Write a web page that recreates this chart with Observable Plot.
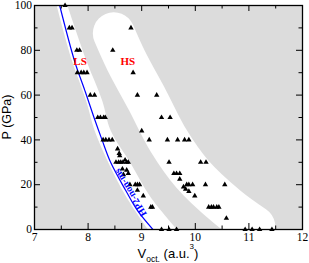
<!DOCTYPE html>
<html>
<head>
<meta charset="utf-8">
<script src="https://cdn.jsdelivr.net/npm/d3@7"></script>
<script src="https://cdn.jsdelivr.net/npm/@observablehq/plot@0.6"></script>
<style>
  html, body { margin: 0; padding: 0; background: white; }
  #chart svg { display: block; }
</style>
</head>
<body>
<div id="chart"></div>
<script>
// Axis ticks
const xTicks = [7, 8, 9, 10, 11, 12];
const xMinor = [7.5, 8.5, 9.5, 10.5, 11.5];
const yTicks = [0, 20, 40, 60, 80, 100];
const yMinor = [10, 30, 50, 70, 90];

// Low-spin (LS) data points
const lsV = [7.57, 7.65, 7.70, 7.79, 7.84, 7.80, 7.87, 7.92, 7.98, 8.04, 8.12,
  8.18, 8.23, 8.29, 8.32, 8.28, 8.33, 8.39, 8.45, 8.55, 8.58, 8.59,
  8.52, 8.57, 8.61, 8.65, 8.69, 8.72, 8.75, 8.64, 8.72, 8.75, 8.66,
  8.78, 8.88, 8.92, 8.96, 8.92, 9.03, 9.17, 9.20, 9.37, 9.51, 9.65];
const lsP = [100, 90, 90, 80, 80, 70, 70, 70, 70, 60, 60,
  50, 50, 50, 50, 40, 40, 40, 40, 36, 34, 33,
  30, 30, 30, 30, 31, 30, 30, 27, 26.5, 25, 24.5,
  20, 20, 20, 20, 17.5, 15, 10, 10, 0, 0, 0];

// High-spin (HS) data points
const hsV = [8.80, 8.46, 8.84, 8.92, 9.28, 9.37, 9.53, 9.00,
  9.14, 9.48, 9.67, 9.80, 9.88, 9.51, 10.10, 10.20,
  9.60, 9.65, 9.71, 9.71, 9.84, 9.88, 9.95, 10.19, 10.55,
  9.78, 9.82, 9.88, 9.99, 10.25, 10.30, 10.34, 10.40, 10.44,
  10.58, 10.93, 11.06, 11.20, 11.43];
const hsP = [90, 80, 70, 60, 60, 50, 50, 44,
  40, 40, 40, 40, 40, 30, 30, 30,
  25, 25, 25, 22.5, 20, 20, 20, 20, 20,
  19, 18, 17, 15, 10, 10, 10, 10, 10,
  5, 0, 0, 0, 0];

// HP2-non-ms curve
const curveV = [7.47, 7.75, 7.94, 8.11, 8.26, 8.42, 8.70, 8.92, 9.21];
const curveP = [100, 75, 62, 50, 40, 30, 17.5, 8.5, 0];

// LS white band edges
const lsBandP = [100, 75, 57.5, 44, 29.5, 14.4, 0];
const lsBandLeft = [7.42, 7.71, 7.97, 8.13, 8.39, 8.72, 9.12];
const lsBandRight = [7.62, 7.98, 8.27, 8.43, 8.80, 9.17, 9.66];

// HS white band centre line
const hsBandV = [8.48, 8.71, 9.11, 9.50, 9.94, 10.60, 11.10];
const hsBandP = [87.6, 75.4, 57.6, 39.7, 24.9, 10, 1.3];

// Text labels
const regionLabels = ["LS", "HS"];
const regionV = [7.85, 8.74];
const regionP = [75, 75];
const curveLabel = "HP2-non-ms";
const curveLabelV = 8.79;
const curveLabelP = 16.5;

const W = 309, H = 263, mL = 34, mR = 7, mT = 5, mB = 34;
const plotW = W - mL - mR, plotH = H - mT - mB;

const lsPts = lsV.map((v, i) => ({V: v, P: lsP[i]}));
const hsPts = hsV.map((v, i) => ({V: v, P: hsP[i]}));
const pts = lsPts.concat(hsPts);
const curve = curveV.map((v, i) => ({V: v, P: curveP[i]}));
const lsBand = lsBandP.map((p, i) => ({P: p, L: lsBandLeft[i], R: lsBandRight[i]}));
const hsBand = hsBandV.map((v, i) => ({V: v, P: hsBandP[i]}));
const labels = regionLabels.map((t, i) => ({t, V: regionV[i], P: regionP[i]}));

const serif = "'Liberation Serif', 'Times New Roman', serif";

const chart = Plot.plot({
  width: W, height: H,
  marginLeft: mL, marginRight: mR, marginTop: mT, marginBottom: mB,
  style: {background: "white", color: "black"},
  x: {domain: [7, 12], label: null},
  y: {domain: [0, 100], label: null},
  marks: [
    Plot.frame({fill: "#dcdcdc", stroke: null}),
    Plot.areaX(lsBand, {y: "P", x1: "L", x2: "R", fill: "white", curve: "catmull-rom", clip: true}),
    Plot.line(hsBand, {x: "V", y: "P", stroke: "white", strokeWidth: 42, strokeLinecap: "round", strokeLinejoin: "round", curve: "catmull-rom", clip: true}),
    Plot.line(curve, {x: "V", y: "P", stroke: "blue", strokeWidth: 1.2, curve: "catmull-rom", clip: true}),
    Plot.dot(pts, {x: "V", y: "P", symbol: "triangle", r: 2, fill: "black", stroke: null}),
    Plot.text(labels, {x: "V", y: "P", text: "t", fill: "red", fontWeight: "bold", fontSize: 11, fontFamily: serif}),
    Plot.text([curveLabel], {x: () => curveLabelV, y: () => curveLabelP, text: d => d, rotate: -121, fill: "blue", fontWeight: "bold", fontSize: 10, fontFamily: serif}),
    // inward ticks
    Plot.ruleX(xTicks, {insetTop: plotH - 6, stroke: "black"}),
    Plot.ruleX(xTicks, {insetBottom: plotH - 6, stroke: "black"}),
    Plot.ruleX(xMinor, {insetTop: plotH - 3.5, stroke: "black"}),
    Plot.ruleX(xMinor, {insetBottom: plotH - 3.5, stroke: "black"}),
    Plot.ruleY(yTicks, {insetRight: plotW - 6, stroke: "black"}),
    Plot.ruleY(yTicks, {insetLeft: plotW - 6, stroke: "black"}),
    Plot.ruleY(yMinor, {insetRight: plotW - 3.5, stroke: "black"}),
    Plot.ruleY(yMinor, {insetLeft: plotW - 3.5, stroke: "black"}),
    Plot.frame({stroke: "black", strokeWidth: 1.3}),
    Plot.axisX({ticks: xTicks, tickFormat: d => String(d), tickSize: 0, tickPadding: 3, fontSize: 11.5, fontFamily: serif, label: null}),
    Plot.axisY({ticks: yTicks, tickFormat: d => String(d), tickSize: 0, tickPadding: 2.5, fontSize: 11.5, fontFamily: serif, label: null})
  ]
});

const svg = d3.select(chart);
const sans = "'Liberation Sans', Arial, Helvetica, sans-serif";
svg.append("text")
  .attr("transform", `translate(10.5,${mT + plotH / 2}) rotate(-90)`)
  .attr("text-anchor", "middle")
  .attr("font-family", sans)
  .attr("font-size", 12.5)
  .attr("fill", "black")
  .text("P (GPa)");

const xl = svg.append("text")
  .attr("x", mL + plotW / 2)
  .attr("y", 258)
  .attr("text-anchor", "middle")
  .attr("font-family", sans)
  .attr("font-size", 13)
  .attr("fill", "black");
xl.append("tspan").text("V");
xl.append("tspan").attr("dy", 4).attr("font-size", 8.5).text("oct.");
xl.append("tspan").attr("dy", -4).text(" (a.u.");
xl.append("tspan").attr("dy", -9.5).attr("font-size", 8).text("3");
xl.append("tspan").attr("dy", 9.5).text(")");

document.getElementById("chart").appendChild(chart);
</script>
</body>
</html>
